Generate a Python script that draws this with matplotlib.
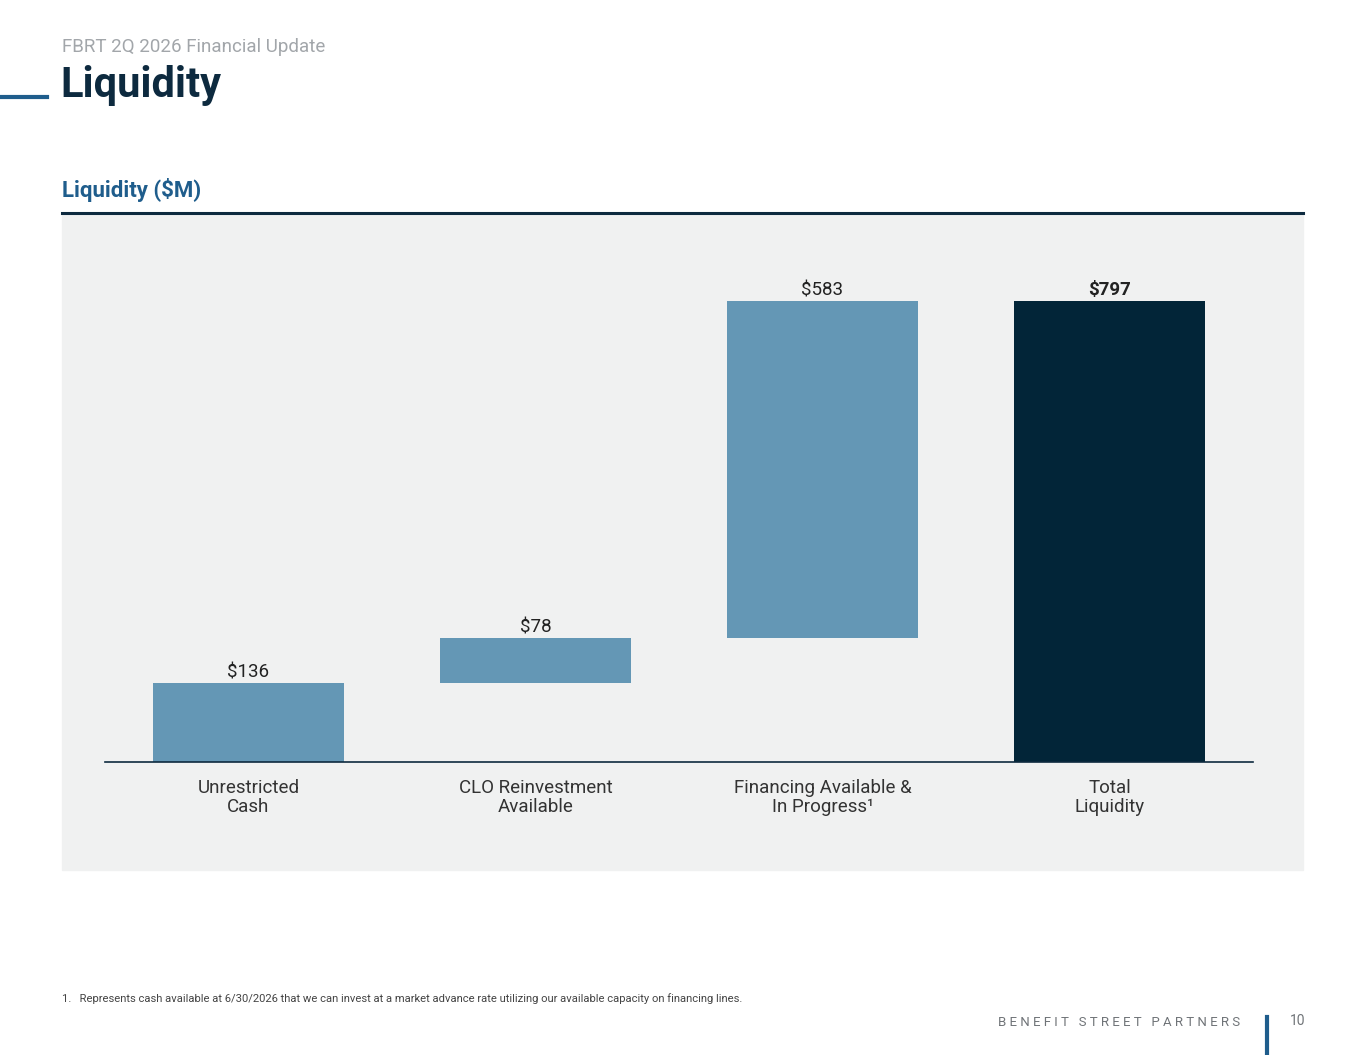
import matplotlib
matplotlib.use("Agg")
import matplotlib.pyplot as plt
from matplotlib.patches import Rectangle
from matplotlib.lines import Line2D

categories = ["Unrestricted\nCash", "CLO Reinvestment\nAvailable", "Financing Available &\nIn Progress\u00b9", "Total\nLiquidity"]
values = [136, 78, 583, 797]
labels = ["$136", "$78", "$583", "$797"]

plt.rcParams['font.family'] = ['Roboto', 'DejaVu Sans']
W, H = 1365, 1055
fig = plt.figure(figsize=(W/100, H/100), dpi=100)
fig.patch.set_facecolor('white')

def fx(x): return x / W
def fy(y): return 1 - y / H

# panel
fig.add_artist(Rectangle((fx(62), fy(870)), fx(1303) - fx(62), fy(213) - fy(870),
                         transform=fig.transFigure, color='#f0f1f1', zorder=-10))
fig.add_artist(Line2D([fx(62), fx(1303)], [fy(213), fy(213)], color='#0d2a3f', lw=2.2))
fig.add_artist(Line2D([0, fx(47)], [fy(97), fy(97)], color='#1f5d8c', lw=3))

fig.text(fx(62), fy(47), "FBRT 2Q 2026 Financial Update", fontsize=13.5, color='#a2a6aa', va='center')
fig.text(fx(60), fy(86), "Liquidity", fontsize=30, fontweight='bold', color='#0d2a3f', va='center')
fig.text(fx(62), fy(190), "Liquidity ($M)", fontsize=16, fontweight='bold', color='#1f5d8c', va='center')

ax = fig.add_axes([fx(105), fy(762), fx(1253) - fx(105), fy(213) - fy(762)])
ax.set_facecolor('none')
x = list(range(len(values)))
bottoms = [0, values[0], values[0] + values[1], 0]
colors = ['#6497b5', '#6497b5', '#6497b5', '#022538']
ax.bar(x, values, bottom=bottoms, width=0.665, color=colors)
ax.set_xlim(-0.5, 3.5)
ax.set_ylim(0, 949)
for i, (v, b, l) in enumerate(zip(values, bottoms, labels)):
    ax.text(i, v + b + 3, l, ha='center', va='bottom', fontsize=13.5, color='#222222',
            fontweight='bold' if i == 3 else 'normal')
ax.set_xticks(x)
ax.set_xticklabels(categories, fontsize=13.5, color='#333333', linespacing=1.1)
ax.tick_params(axis='x', length=0, pad=12)
ax.set_yticks([])
for s in ['top', 'right', 'left']:
    ax.spines[s].set_visible(False)
ax.spines['bottom'].set_color('#0d2a3f')
ax.spines['bottom'].set_linewidth(1.2)

fig.text(fx(62), fy(999), "1.   Represents cash available at 6/30/2026 that we can invest at a market advance rate utilizing our available capacity on financing lines.",
         fontsize=8.1, color='#444444', va='center')
fig.text(fx(1240), fy(1022), "B E N E F I T   S T R E E T   P A R T N E R S", fontsize=9.5, color='#707478', ha='right', va='center')
fig.add_artist(Line2D([fx(1267), fx(1267)], [fy(1017), 0], color='#1f5d8c', lw=3))
fig.text(fx(1305), fy(1021), "10", fontsize=10, color='#707478', ha='right', va='center')

fig.savefig("out.png", dpi=100)
